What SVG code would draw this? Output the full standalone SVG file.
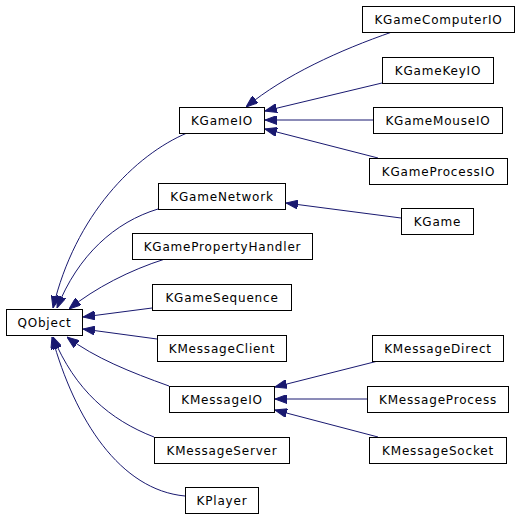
<svg xmlns="http://www.w3.org/2000/svg" width="520" height="519" viewBox="0 0 520 519">
<style>
.n rect{fill:#fff;stroke:#000;stroke-width:1}
.n text{font-family:"DejaVu Sans",sans-serif;font-size:12px;letter-spacing:0.8px;text-anchor:middle;fill:#000}
.e path{fill:none;stroke:#191970;stroke-width:1;marker-end:url(#ah)}
</style>
<defs>
<marker id="ah" markerUnits="userSpaceOnUse" viewBox="0 0 12 9" refX="12" refY="4.5" markerWidth="12" markerHeight="9" orient="auto">
<path d="M0,0 L12,4.5 L0,9 z" fill="#191970" stroke="#191970" stroke-width="1"/>
</marker>
</defs>
<rect width="520" height="519" fill="#fff"/>
<g id="connectors" class="e">
<path d="M392,32 C340,50 285,75 246,107"/>
<path d="M382,83 L265,111"/>
<path d="M373,120 L265,120"/>
<path d="M378,158 L265,129"/>
<path d="M401,218 L286,203"/>
<path d="M378,361 L275,387"/>
<path d="M367,399 L275,399"/>
<path d="M378,437 L275,410"/>
<path d="M187,133 C135,155 75,215 53,308"/>
<path d="M158,209 C115,222 78,255 57,308"/>
<path d="M165,259 C130,270 95,288 69,309"/>
<path d="M152,308 L83,317"/>
<path d="M157,339 L83,329"/>
<path d="M169,386 C130,372 95,358 67,337"/>
<path d="M154,437 C110,420 75,390 53,337"/>
<path d="M185,496 C120,490 75,420 52,337"/>
</g>
<g id="QObject" class="n"><rect x="6.5" y="309.5" width="76" height="26"/><text x="44.5" y="326.5">QObject</text></g>
<g id="KGameIO" class="n"><rect x="179.5" y="107.5" width="85" height="26"/><text x="222" y="124.5">KGameIO</text></g>
<g id="KGameNetwork" class="n"><rect x="158.5" y="183.5" width="127" height="26"/><text x="222" y="200.5">KGameNetwork</text></g>
<g id="KGamePropertyHandler" class="n"><rect x="132.5" y="233.5" width="180" height="26"/><text x="222.5" y="250.5">KGamePropertyHandler</text></g>
<g id="KGameSequence" class="n"><rect x="152.5" y="284.5" width="139" height="26"/><text x="222" y="301.5">KGameSequence</text></g>
<g id="KMessageClient" class="n"><rect x="157.5" y="335.5" width="129" height="26"/><text x="222" y="352.5">KMessageClient</text></g>
<g id="KMessageIO" class="n"><rect x="169.5" y="386.5" width="105" height="26"/><text x="222" y="403.5">KMessageIO</text></g>
<g id="KMessageServer" class="n"><rect x="154.5" y="437.5" width="135" height="26"/><text x="222" y="454.5">KMessageServer</text></g>
<g id="KPlayer" class="n"><rect x="185.5" y="487.5" width="73" height="26"/><text x="222" y="504.5">KPlayer</text></g>
<g id="KGameComputerIO" class="n"><rect x="362.5" y="6.5" width="152" height="26"/><text x="438.5" y="23.5">KGameComputerIO</text></g>
<g id="KGameKeyIO" class="n"><rect x="382.5" y="57.5" width="111" height="26"/><text x="438" y="74.5">KGameKeyIO</text></g>
<g id="KGameMouseIO" class="n"><rect x="373.5" y="107.5" width="129" height="26"/><text x="438" y="124.5">KGameMouseIO</text></g>
<g id="KGameProcessIO" class="n"><rect x="369.5" y="158.5" width="138" height="26"/><text x="438.5" y="175.5">KGameProcessIO</text></g>
<g id="KGame" class="n"><rect x="401.5" y="208.5" width="72" height="26"/><text x="437.5" y="225.5">KGame</text></g>
<g id="KMessageDirect" class="n"><rect x="372.5" y="335.5" width="131" height="26"/><text x="438" y="352.5">KMessageDirect</text></g>
<g id="KMessageProcess" class="n"><rect x="367.5" y="386.5" width="141" height="26"/><text x="438" y="403.5">KMessageProcess</text></g>
<g id="KMessageSocket" class="n"><rect x="369.5" y="437.5" width="137" height="26"/><text x="438" y="454.5">KMessageSocket</text></g>
</svg>
